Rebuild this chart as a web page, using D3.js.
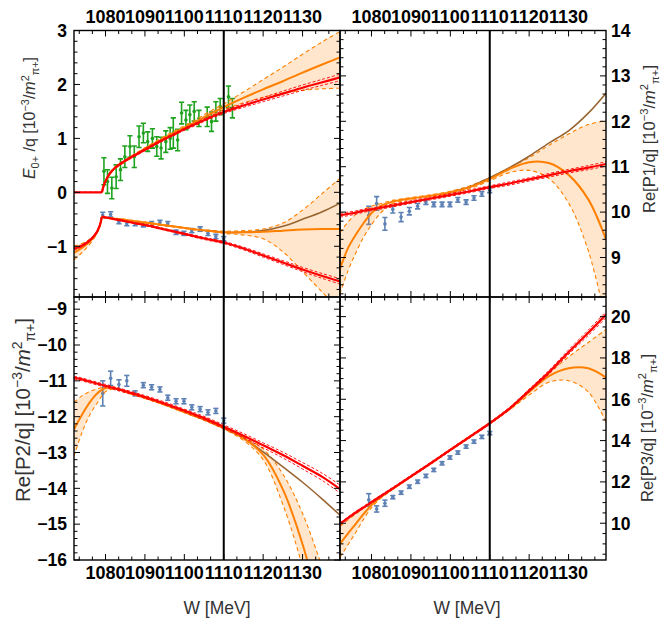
<!DOCTYPE html>
<html><head><meta charset="utf-8">
<script src="https://cdn.jsdelivr.net/npm/d3@7"></script>
<style>body{margin:0;background:#fff}svg{display:block}</style>
</head><body><svg id="c" width="668" height="618"></svg>
<script>
// ---------------- data ----------------
const W_DOMAIN = [1072, 1139.5];
const W_LINE = 1110;
const KINK = 1079.1;
const xTickLabels = [1080, 1090, 1100, 1110, 1120, 1130];

// top-left grid (E0+/q)
const tlW = [1072,1074,1076,1077.5,1078.5,1079.1,1079.6,1080.3,1081.2,1082.5,1084,1086,1088,1091,1094,1097,1100,1103,1106,1110,1115,1120,1125,1130,1135,1139.5];
const tlUpRed    = [0,0,0,0,0,0,0.14,0.25,0.36,0.46,0.54,0.63,0.71,0.83,0.95,1.06,1.17,1.27,1.37,1.49,1.61,1.72,1.83,1.94,2.04,2.13];
const tlUpRedErr = [0,0,0,0,0,0,0.01,0.01,0.015,0.015,0.02,0.02,0.02,0.02,0.02,0.02,0.02,0.025,0.025,0.03,0.035,0.04,0.045,0.05,0.055,0.06];
const tlUpOrange = [null,null,null,null,null,0,0.14,0.25,0.36,0.46,0.54,0.63,0.72,0.85,0.97,1.09,1.2,1.31,1.43,1.58,1.75,1.91,2.06,2.22,2.37,2.5];
const tlUpHi     = [null,null,null,null,null,0,0.16,0.27,0.38,0.48,0.56,0.65,0.74,0.87,1.0,1.12,1.23,1.35,1.48,1.64,1.86,2.09,2.32,2.56,2.79,2.98];
const tlUpLo     = [null,null,null,null,null,0,0.12,0.23,0.34,0.44,0.52,0.61,0.7,0.83,0.94,1.06,1.17,1.27,1.38,1.53,1.66,1.76,1.84,1.89,1.92,1.93];
const tlLoRed    = [-1.05,-0.99,-0.89,-0.77,-0.62,-0.45,-0.46,-0.47,-0.48,-0.5,-0.52,-0.55,-0.58,-0.62,-0.67,-0.72,-0.77,-0.82,-0.87,-0.93,-1.04,-1.17,-1.3,-1.43,-1.55,-1.65];
const tlLoRedErr = [0.02,0.02,0.02,0.02,0.02,0.01,0.01,0.01,0.01,0.01,0.01,0.01,0.01,0.015,0.015,0.015,0.015,0.02,0.02,0.02,0.025,0.03,0.035,0.04,0.045,0.05];
const tlLoOrange = [-1.12,-1.03,-0.91,-0.78,-0.63,-0.45,-0.46,-0.47,-0.48,-0.49,-0.5,-0.52,-0.54,-0.57,-0.6,-0.63,-0.66,-0.69,-0.71,-0.74,-0.74,-0.73,-0.71,-0.69,-0.68,-0.68];
const tlLoHi     = [-1.0,-0.95,-0.87,-0.76,-0.62,-0.45,-0.455,-0.46,-0.47,-0.48,-0.49,-0.51,-0.53,-0.56,-0.59,-0.62,-0.65,-0.68,-0.7,-0.72,-0.71,-0.68,-0.57,-0.33,-0.02,0.26];
const tlLoLo     = [-1.25,-1.12,-0.96,-0.81,-0.65,-0.45,-0.465,-0.48,-0.49,-0.5,-0.51,-0.53,-0.55,-0.58,-0.61,-0.64,-0.67,-0.7,-0.72,-0.76,-0.79,-0.86,-1.1,-1.47,-1.85,-2.2];
const tlLoBrown  = [null,null,null,null,null,null,null,null,null,null,null,null,null,null,null,null,null,null,-0.71,-0.74,-0.74,-0.71,-0.63,-0.5,-0.36,-0.2];

const greenW   = [1079.6,1080.5,1081.6,1082.7,1083.8,1084.9,1086.2,1087.3,1088.5,1089.6,1090.7,1091.9,1093.0,1094.1,1095.3,1096.4,1097.2,1098.3,1099.3,1100.4,1101.4,1102.5,1103.7,1105.8,1106.9,1108.0,1109.1,1111.2,1112.2];
const greenV   = [0.39,0.2,0.08,0.29,0.42,0.66,0.85,0.66,1.03,1.1,0.94,1.0,0.85,0.82,0.94,1.0,1.1,0.97,1.47,1.34,1.44,1.5,1.37,1.4,1.31,1.5,1.59,1.77,1.56];
const greenErr = [0.25,0.22,0.2,0.22,0.2,0.2,0.2,0.2,0.2,0.18,0.18,0.18,0.18,0.2,0.2,0.2,0.28,0.2,0.2,0.18,0.18,0.18,0.15,0.18,0.18,0.18,0.15,0.2,0.18];

const blueW      = [1079.3,1081.3,1083.4,1085.4,1087.5,1089.6,1091.7,1093.8,1095.8,1097.9,1099.9,1101.9,1104.0,1106.0,1108.0,1110.0];
const tlBlue     = [-0.42,-0.41,-0.54,-0.58,-0.58,-0.60,-0.58,-0.56,-0.58,-0.74,-0.76,-0.71,-0.68,-0.76,-0.82,-0.86];
const tlBlueErr  = [0.05,0.05,0.04,0.04,0.04,0.04,0.04,0.04,0.04,0.04,0.04,0.04,0.04,0.04,0.04,0.04];
const trBlue     = [9.93,10.19,9.74,10.06,9.89,10.02,10.13,10.22,10.17,10.17,10.17,10.27,10.22,10.31,10.40,10.48];
const trBlueErr  = [0.2,0.15,0.14,0.08,0.1,0.08,0.06,0.05,0.05,0.05,0.05,0.05,0.05,0.05,0.05,0.05];
const blBlue     = [-11.35,-10.93,-11.10,-11.0,-11.35,-11.12,-11.18,-11.24,-11.47,-11.57,-11.57,-11.74,-11.79,-11.88,-11.84,-12.11];
const blBlueErr  = [0.35,0.2,0.13,0.15,0.07,0.07,0.07,0.07,0.07,0.07,0.07,0.07,0.07,0.07,0.07,0.07];
const brBlue     = [11.13,10.69,10.97,11.26,11.48,11.77,12.01,12.29,12.58,12.9,13.18,13.42,13.71,13.95,14.18,14.36];
const brBlueErr  = [0.3,0.15,0.15,0.08,0.08,0.08,0.08,0.08,0.08,0.08,0.08,0.08,0.08,0.08,0.08,0.08];

// common grid for the P-wave panels
const pW = [1072,1074,1076,1078,1080,1082,1085,1090,1095,1100,1105,1110,1115,1120,1125,1130,1135,1139.5];
const trRed    = [9.93,9.96,9.99,10.03,10.06,10.09,10.14,10.22,10.30,10.38,10.46,10.55,10.63,10.72,10.81,10.90,10.98,11.06];
const trRedErr = [0.04,0.04,0.035,0.035,0.03,0.03,0.03,0.03,0.03,0.03,0.03,0.03,0.035,0.035,0.04,0.04,0.045,0.05];
const trOrange = [8.75,9.2,9.5,9.76,9.98,10.12,10.22,10.3,10.36,10.44,10.55,10.73,10.95,11.1,11.08,10.82,10.28,9.4];
const trHi     = [9.55,9.78,9.95,10.06,10.13,10.18,10.25,10.32,10.38,10.46,10.58,10.76,10.98,11.2,11.47,11.72,11.93,12.01];
const trLo     = [8.2,8.7,9.1,9.45,9.72,9.95,10.17,10.28,10.34,10.42,10.52,10.69,10.87,10.92,10.74,10.2,9.15,7.6];
const trBrown  = [null,null,null,null,null,null,null,null,null,10.44,10.56,10.76,10.98,11.23,11.52,11.79,12.18,12.62];

const blRed    = [-10.91,-10.96,-11.02,-11.08,-11.14,-11.2,-11.29,-11.45,-11.63,-11.83,-12.04,-12.28,-12.53,-12.8,-13.07,-13.37,-13.68,-14.02];
const blRedErr = [0.04,0.04,0.04,0.04,0.04,0.04,0.04,0.04,0.04,0.04,0.05,0.05,0.06,0.07,0.08,0.09,0.1,0.11];
const blOrange = [-12.35,-11.95,-11.6,-11.34,-11.2,-11.2,-11.3,-11.47,-11.66,-11.87,-12.08,-12.32,-12.6,-13.06,-14.03,-15.56,-17.6,-19.5];
const blHi     = [-11.6,-11.42,-11.3,-11.22,-11.17,-11.18,-11.27,-11.45,-11.64,-11.85,-12.06,-12.3,-12.57,-12.9,-13.6,-14.7,-16.2,-17.6];
const blLo     = [-13.1,-12.45,-11.95,-11.6,-11.3,-11.23,-11.32,-11.49,-11.68,-11.89,-12.1,-12.35,-12.66,-13.2,-14.45,-16.2,-18.5,-20.5];
const blBrown  = [null,null,null,null,null,null,null,null,null,-11.87,-12.08,-12.32,-12.6,-12.98,-13.4,-13.83,-14.3,-14.75];

const brRed    = [9.97,10.25,10.52,10.77,11.02,11.27,11.64,12.27,12.9,13.55,14.19,14.84,15.55,16.42,17.3,18.28,19.22,20.1];
const brRedErr = [0.06,0.05,0.05,0.05,0.05,0.05,0.05,0.05,0.05,0.05,0.05,0.05,0.06,0.07,0.09,0.11,0.13,0.15];
const brOrange = [9.0,9.5,9.97,10.45,10.88,11.22,11.62,12.26,12.9,13.55,14.19,14.84,15.53,16.35,17.12,17.5,17.5,17.05];
const brHi     = [9.85,10.15,10.45,10.73,11.0,11.26,11.64,12.27,12.91,13.56,14.2,14.85,15.55,16.42,17.25,18.05,18.75,19.38];
const brLo     = [8.35,8.95,9.55,10.2,10.75,11.15,11.58,12.24,12.88,13.53,14.17,14.82,15.48,16.2,16.82,16.9,16.35,14.9];

// ---------------- drawing ----------------
const C = {red:'#ff0000', orange:'#ff8000', brown:'#996633', fill:'#ff8000', green:'#1fa31f', blue:'#5e81b5'};
const FONT = '"Liberation Sans", Arial, Helvetica, sans-serif';
const svg = d3.select('#c');
const CURVE = d3.curveCatmullRom.alpha(0.5);

function segs(W, A, B) {
  const pts = W.map((w,i)=>({w, a:A[i], b:B?B[i]:null}))
    .filter(d => d.a != null && (!B || d.b != null));
  const out = []; let cur = [];
  pts.forEach(d => { cur.push(d); if (d.w === KINK) { out.push(cur); cur = [d]; } });
  out.push(cur);
  return out.filter(s => s.length > 1);
}

function drawPanel(p) {
  const x = d3.scaleLinear().domain(W_DOMAIN).range([p.x0, p.x1]);
  const y = d3.scaleLinear().domain(p.ydom).range([p.y1, p.y0]);
  const cid = 'clip' + p.name;
  svg.append('clipPath').attr('id', cid).append('rect')
    .attr('x', p.x0).attr('y', p.y0).attr('width', p.x1 - p.x0).attr('height', p.y1 - p.y0);
  const g = svg.append('g').attr('clip-path', `url(#${cid})`);
  const line = d3.line().x(d => x(d.w)).y(d => y(d.a)).curve(CURVE);
  const area = d3.area().x(d => x(d.w)).y0(d => y(d.a)).y1(d => y(d.b)).curve(CURVE);

  // data (under curves)
  p.data.forEach(ds => {
    const dg = g.append('g');
    ds.W.forEach((w, i) => {
      const cx = x(w), v = ds.V[i], e = ds.E[i];
      const ya = y(v - e), yb = y(v + e);
      dg.append('line').attr('x1', cx).attr('x2', cx).attr('y1', ya).attr('y2', yb)
        .attr('stroke', ds.color).attr('stroke-width', 1.6);
      [ya, yb].forEach(yy => dg.append('line').attr('x1', cx - 2.6).attr('x2', cx + 2.6)
        .attr('y1', yy).attr('y2', yy).attr('stroke', ds.color).attr('stroke-width', 1.6));
      dg.append('circle').attr('cx', cx).attr('cy', y(v)).attr('r', 1.8).attr('fill', ds.color);
    });
  });

  p.groups.forEach(gr => {
    segs(gr.W, gr.lo, gr.hi).forEach(s =>
      g.append('path').attr('d', area(s)).attr('fill', C.fill).attr('fill-opacity', 0.2));
    [gr.lo, gr.hi].forEach(arr => segs(gr.W, arr).forEach(s =>
      g.append('path').attr('d', line(s)).attr('fill', 'none').attr('stroke', C.orange)
        .attr('stroke-width', 1.1).attr('stroke-dasharray', '4,3')));
    if (gr.brown) segs(gr.W, gr.brown).forEach(s =>
      g.append('path').attr('d', line(s)).attr('fill', 'none').attr('stroke', C.brown).attr('stroke-width', 1.6));
    segs(gr.W, gr.orange).forEach(s =>
      g.append('path').attr('d', line(s)).attr('fill', 'none').attr('stroke', C.orange).attr('stroke-width', 2));
    [1, -1].forEach(sg => {
      const arr = gr.red.map((v, i) => v + sg * gr.redErr[i]);
      segs(gr.W, arr).forEach(s =>
        g.append('path').attr('d', line(s)).attr('fill', 'none').attr('stroke', C.red)
          .attr('stroke-width', 0.9).attr('stroke-dasharray', '3,2'));
    });
    segs(gr.W, gr.red).forEach(s =>
      g.append('path').attr('d', line(s)).attr('fill', 'none').attr('stroke', C.red).attr('stroke-width', 2.2));
  });

  // vertical line
  svg.append('line').attr('x1', x(W_LINE)).attr('x2', x(W_LINE)).attr('y1', p.y0).attr('y2', p.y1)
    .attr('stroke', '#000').attr('stroke-width', 2);

  // frame
  svg.append('rect').attr('x', p.x0).attr('y', p.y0).attr('width', p.x1 - p.x0).attr('height', p.y1 - p.y0)
    .attr('fill', 'none').attr('stroke', '#000').attr('stroke-width', 1.4);

  // ticks
  const tk = svg.append('g').attr('stroke', '#000').attr('stroke-width', 1);
  const xMinor = d3.range(1080 - 10, W_DOMAIN[1], 10/3).filter(v => v > W_DOMAIN[0]);
  xMinor.forEach(v => {
    const isMaj = xTickLabels.some(t => Math.abs(t - v) < 0.01);
    const L = isMaj ? 6 : 3.5, xx = x(v);
    tk.append('line').attr('x1', xx).attr('x2', xx).attr('y1', p.y0).attr('y2', p.y0 + L);
    tk.append('line').attr('x1', xx).attr('x2', xx).attr('y1', p.y1).attr('y2', p.y1 - L);
  });
  const yMin = d3.range(Math.ceil(p.ydom[0] / p.yMinor) * p.yMinor, p.ydom[1] + 1e-9, p.yMinor);
  yMin.forEach(v => {
    const isMaj = p.yLabels.some(t => Math.abs(t - v) < 1e-6);
    const L = isMaj ? 6 : 3.5, yy = y(v);
    tk.append('line').attr('x1', p.x0).attr('x2', p.x0 + L).attr('y1', yy).attr('y2', yy);
    tk.append('line').attr('x1', p.x1).attr('x2', p.x1 - L).attr('y1', yy).attr('y2', yy);
  });

  // tick labels
  const lab = svg.append('g').attr('font-family', FONT).attr('font-weight', 'bold').attr('fill', '#000');
  xTickLabels.forEach(t => {
    lab.append('text').attr('x', x(t)).attr('y', p.xLabTop ? p.y0 - 8 : p.y1 + 19)
      .attr('font-size', 18).attr('text-anchor', 'middle').text(t);
  });
  p.yLabels.forEach(t => {
    const txt = t < 0 ? '\u2212' + Math.abs(t) : String(t);
    lab.append('text').attr('x', p.yLabLeft ? p.x0 - 7 : p.x1 + 5).attr('y', y(t) + 6.3)
      .attr('font-size', 17.5).attr('text-anchor', p.yLabLeft ? 'end' : 'start').text(txt);
  });
}

function rich(x, y, size, parts) {
  const t = svg.append('text').attr('transform', `translate(${x},${y}) rotate(-90)`)
    .attr('text-anchor', 'middle').attr('font-family', FONT).attr('font-size', size).attr('fill', '#333');
  let shift = 0;
  const ss = size * 0.68;
  parts.forEach(([s, k]) => {
    const target = k.includes('sup') ? -0.4 * size : k.includes('sub') ? 0.25 * size : 0;
    const ts = t.append('tspan').attr('dy', target - shift).text(s);
    shift = target;
    if (k.includes('sup') || k.includes('sub')) ts.attr('font-size', ss);
    if (k.includes('i')) ts.attr('font-style', 'italic');
  });
}

const unitParts = [[' [10', 'n'], ['\u22123', 'sup'], ['/', 'n'], ['m', 'i'], ['2', 'sup'], ['\u03c0+', 'sub'], [']', 'n']];

drawPanel({name:'tl', x0:74, x1:340, y0:30.5, y1:297, ydom:[-1.94, 3], yMinor:0.2, yLabels:[-1,0,1,2,3],
  yLabLeft:true, xLabTop:true,
  groups:[
    {W:tlW, red:tlLoRed, redErr:tlLoRedErr, orange:tlLoOrange, hi:tlLoHi, lo:tlLoLo, brown:tlLoBrown},
    {W:tlW, red:tlUpRed, redErr:tlUpRedErr, orange:tlUpOrange, hi:tlUpHi, lo:tlUpLo}
  ],
  data:[{W:greenW, V:greenV, E:greenErr, color:C.green}, {W:blueW, V:tlBlue, E:tlBlueErr, color:C.blue}]});

drawPanel({name:'tr', x0:340, x1:606, y0:30.5, y1:297, ydom:[8.13, 14], yMinor:0.2, yLabels:[9,10,11,12,13,14],
  yLabLeft:false, xLabTop:true,
  groups:[{W:pW, red:trRed, redErr:trRedErr, orange:trOrange, hi:trHi, lo:trLo, brown:trBrown}],
  data:[{W:blueW, V:trBlue, E:trBlueErr, color:C.blue}]});

drawPanel({name:'bl', x0:74, x1:340, y0:297, y1:560, ydom:[-16, -8.66], yMinor:0.2, yLabels:[-16,-15,-14,-13,-12,-11,-10,-9],
  yLabLeft:true, xLabTop:false,
  groups:[{W:pW, red:blRed, redErr:blRedErr, orange:blOrange, hi:blHi, lo:blLo, brown:blBrown}],
  data:[{W:blueW, V:blBlue, E:blBlueErr, color:C.blue}]});

drawPanel({name:'br', x0:340, x1:606, y0:297, y1:560, ydom:[8.22, 20.95], yMinor:0.5, yLabels:[10,12,14,16,18,20],
  yLabLeft:false, xLabTop:false,
  groups:[{W:pW, red:brRed, redErr:brRedErr, orange:brOrange, hi:brHi, lo:brLo}],
  data:[{W:blueW, V:brBlue, E:brBlueErr, color:C.blue}]});

// axis titles
rich(35, 118, 16, [['E', 'i'], ['0+', 'sub'], [' /q', 'n']].concat(unitParts));
rich(30, 410, 20.5, [['Re[P2/q]', 'n']].concat(unitParts));
rich(655, 139, 16.5, [['Re[P1/q]', 'n']].concat(unitParts));
rich(653, 428, 16.5, [['Re[P3/q]', 'n']].concat(unitParts));

svg.append('g').attr('font-family', FONT).attr('font-size', 17.5).attr('fill', '#333')
  .selectAll('text').data([217, 467]).join('text')
  .attr('x', d => d).attr('y', 614).attr('text-anchor', 'middle').text('W [MeV]');
</script>
</body></html>
